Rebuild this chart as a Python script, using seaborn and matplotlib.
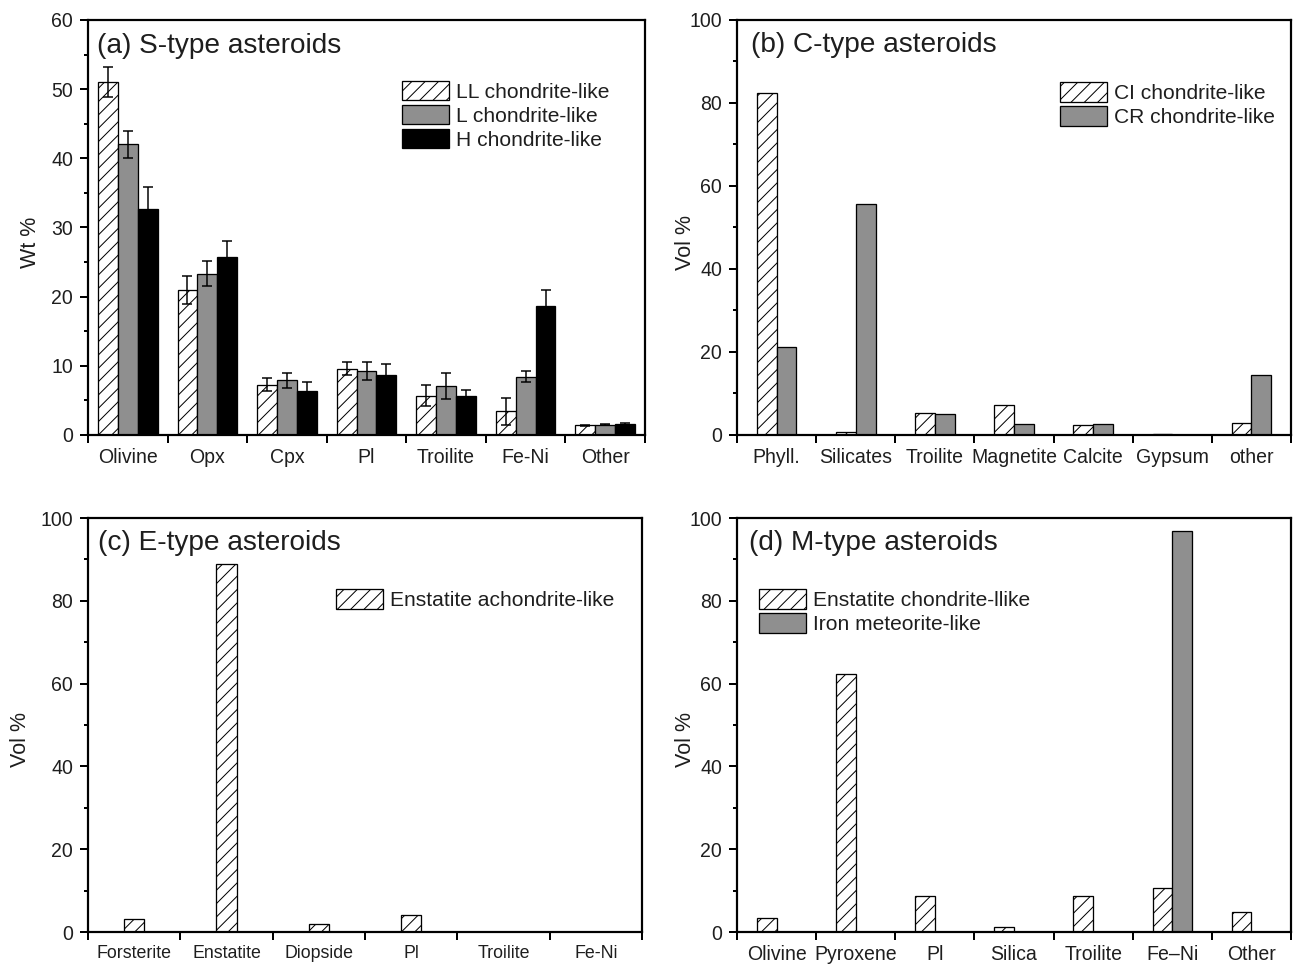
import numpy as np
import pandas as pd
import matplotlib
matplotlib.use("Agg")
import matplotlib.pyplot as plt
from matplotlib.patches import Patch
from matplotlib.ticker import MultipleLocator
import seaborn as sns

DPI = 80
W_PX, H_PX = 1293, 967
HATCH = "//"


def px(v):
    """Convert a length in output pixels to points."""
    return v * 72.0 / DPI


# (a) S-type asteroids (Wt %)
s_minerals = ["Olivine", "Opx", "Cpx", "Pl", "Troilite", "Fe-Ni", "Other"]
s_series = ["LL chondrite-like", "L chondrite-like", "H chondrite-like"]
s_ll = [51.0, 21.0, 7.3, 9.6, 5.7, 3.4, 1.4]
s_l = [42.0, 23.3, 7.9, 9.2, 7.1, 8.4, 1.5]
s_h = [32.7, 25.8, 6.4, 8.7, 5.7, 18.6, 1.6]
s_ll_err = [2.2, 2.0, 0.95, 0.9, 1.5, 1.95, 0.1]
s_l_err = [1.95, 1.8, 1.1, 1.3, 1.9, 0.8, 0.1]
s_h_err = [3.1, 2.3, 1.3, 1.5, 0.8, 2.4, 0.15]

# (b) C-type asteroids (Vol %)
c_minerals = ["Phyll.", "Silicates", "Troilite", "Magnetite", "Calcite", "Gypsum", "other"]
c_series = ["CI chondrite-like", "CR chondrite-like"]
c_ci = [82.5, 0.7, 5.4, 7.2, 2.3, 0.35, 3.0]
c_cr = [21.1, 55.7, 5.1, 2.6, 2.6, 0.0, 14.4]

# (c) E-type asteroids (Vol %)
e_minerals = ["Forsterite", "Enstatite", "Diopside", "Pl", "Troilite", "Fe-Ni"]
e_series = ["Enstatite achondrite-like"]
e_aub = [3.2, 89.0, 2.0, 4.2, 0.0, 0.0]

# (d) M-type asteroids (Vol %)
m_minerals = ["Olivine", "Pyroxene", "Pl", "Silica", "Troilite", "Fe\u2013Ni", "Other"]
m_series = ["Enstatite chondrite-llike", "Iron meteorite-like"]
m_ec = [3.3, 62.2, 8.8, 1.1, 8.8, 10.7, 4.8]
m_iron = [0.0, 0.0, 0.0, 0.0, 0.0, 96.9, 0.0]

GREY = "#8f8f8f"
TEXT = "#1e1e1e"

sns.set_style("ticks")
plt.rcParams["font.family"] = ["Liberation Sans", "DejaVu Sans"]
plt.rcParams["hatch.linewidth"] = px(1.0)
plt.rcParams["hatch.color"] = "black"
plt.rcParams["text.color"] = TEXT
plt.rcParams["xtick.color"] = "black"
plt.rcParams["ytick.color"] = "black"
plt.rcParams["xtick.labelcolor"] = TEXT
plt.rcParams["ytick.labelcolor"] = TEXT
plt.rcParams["axes.labelcolor"] = TEXT

fig = plt.figure(figsize=(W_PX / DPI, H_PX / DPI), dpi=DPI)


def axes_px(left, top, right, bottom):
    return fig.add_axes([left / W_PX, 1 - bottom / H_PX,
                         (right - left) / W_PX, (bottom - top) / H_PX])


def panel(ax, minerals, names, values, colors, hatched, width, ymax, major,
          ylabel, label_xy, title, title_xy, legend_xy, xtick_px=19.5,
          errors=None):
    rows = []
    for name, vals in zip(names, values):
        for m, v in zip(minerals, vals):
            rows.append({"mineral": m, "value": v, "series": name})
    df = pd.DataFrame(rows)
    sns.barplot(data=df, x="mineral", y="value", hue="series",
                order=minerals, hue_order=names, palette=colors,
                width=width, saturation=1, edgecolor="black",
                linewidth=px(1.3), errorbar=None, legend=False, ax=ax)
    for cont, h in zip(ax.containers, hatched):
        if h:
            for bar in cont:
                bar.set_hatch(HATCH)
    if errors is not None:
        for cont, errs in zip(ax.containers, errors):
            xs = [b.get_x() + b.get_width() / 2 for b in cont]
            ys = [b.get_height() for b in cont]
            ax.errorbar(xs, ys, yerr=errs, fmt="none", ecolor="black",
                        elinewidth=px(1.5), capsize=px(5.3),
                        capthick=px(1.5), zorder=5)

    n = len(minerals)
    ax.set_xlim(-0.5, n - 0.5)
    ax.set_ylim(0, ymax)
    ax.yaxis.set_major_locator(MultipleLocator(major))
    ax.yaxis.set_minor_locator(MultipleLocator(major / 2))
    ax.set_xticks(np.arange(n + 1) - 0.5, labels=[""] * (n + 1))
    ax.set_xticks(np.arange(n), labels=minerals, minor=True)
    ax.tick_params(axis="x", which="major", direction="out",
                   length=px(8), width=px(2))
    ax.tick_params(axis="x", which="minor", length=0, pad=px(13),
                   labelsize=px(xtick_px))
    ax.tick_params(axis="y", which="major", direction="out",
                   length=px(8), width=px(2), pad=px(7), labelsize=px(19.5))
    ax.tick_params(axis="y", which="minor", direction="out",
                   length=px(4), width=px(2))
    for sp in ax.spines.values():
        sp.set_visible(True)
        sp.set_linewidth(px(2.2))
        sp.set_color("black")

    ax.set_xlabel("")
    ax.set_ylabel(ylabel, fontsize=px(21.5))
    ax.yaxis.set_label_coords(*label_xy)
    ax.text(title_xy[0], title_xy[1], title, transform=ax.transAxes,
            fontsize=px(28), ha="left", va="baseline")

    handles = [Patch(facecolor=c, edgecolor="black", linewidth=px(1.3),
                     hatch=HATCH if h else None)
               for c, h in zip(colors, hatched)]
    ax.legend(handles, names, loc="upper left", bbox_to_anchor=legend_xy,
              frameon=False, fontsize=px(21), handlelength=2.24,
              handleheight=1.05, handletextpad=0.33, labelspacing=0.14,
              borderpad=0, borderaxespad=0)


ax_a = axes_px(88, 20, 645, 435)
ax_b = axes_px(737, 20, 1291, 435)
ax_c = axes_px(88, 518, 642, 932)
ax_d = axes_px(737, 518, 1291, 932)

panel(ax_a, s_minerals, s_series, [s_ll, s_l, s_h],
      ["white", GREY, "black"], [True, False, False], 0.75, 60, 10,
      "Wt %", (-0.084, 0.464), "(a) S-type asteroids", (0.016, 0.92),
      (0.564, 0.853), errors=[s_ll_err, s_l_err, s_h_err])

panel(ax_b, c_minerals, c_series, [c_ci, c_cr],
      ["white", GREY], [True, False], 0.5, 100, 20,
      "Vol %", (-0.074, 0.463), "(b) C-type asteroids", (0.025, 0.922),
      (0.583, 0.85))

panel(ax_c, e_minerals, e_series, [e_aub],
      ["white"], [True], 0.22, 100, 20,
      "Vol %", (-0.102, 0.464), "(c) E-type asteroids", (0.018, 0.923),
      (0.448, 0.828), xtick_px=17.7)

panel(ax_d, m_minerals, m_series, [m_ec, m_iron],
      ["white", GREY], [True, False], 0.5, 100, 20,
      "Vol %", (-0.074, 0.466), "(d) M-type asteroids", (0.022, 0.922),
      (0.04, 0.828))

fig.savefig("out.png", dpi=DPI)
